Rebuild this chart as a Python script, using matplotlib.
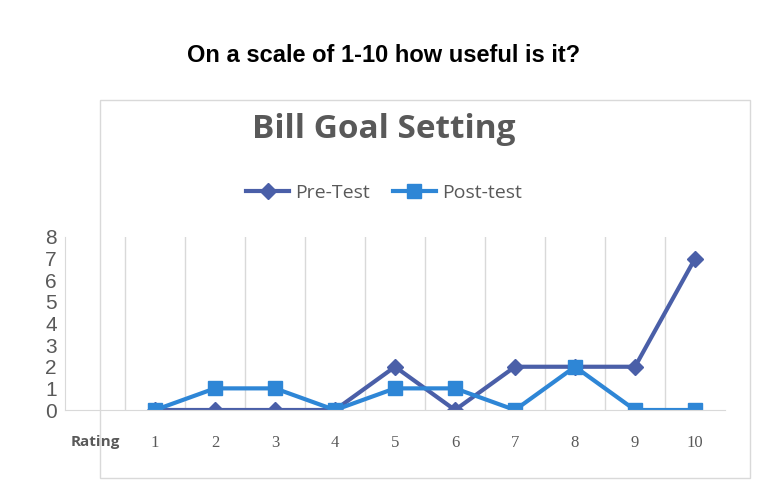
import matplotlib
matplotlib.use("Agg")
import matplotlib.pyplot as plt
from matplotlib.patches import Rectangle

categories = ["Rating", "1", "2", "3", "4", "5", "6", "7", "8", "9", "10"]
pre_test = [0, 0, 0, 0, 2, 0, 2, 2, 2, 7]
post_test = [0, 1, 1, 0, 1, 1, 0, 2, 0, 0]
yticks = list(range(0, 9))

fig = plt.figure(figsize=(7.68, 4.92), dpi=100)
fig.patch.set_facecolor("white")
fig.text(0.5, 1 - 55/492, "On a scale of 1-10 how useful is it?", ha="center", va="center",
         fontsize=17, fontweight="bold", family="Liberation Sans")
fig.patches.append(Rectangle((100/768, 1 - 478/492), 650/768, 378/492, transform=fig.transFigure,
                             fill=False, edgecolor="#d9d9d9", lw=1))
fig.text(0.5, 1 - 130/492, "Bill Goal Setting", ha="center", va="center",
         fontsize=24, fontweight="bold", color="#595959", family="Open Sans")

ax = fig.add_axes([65/768, 1 - 410/492, 660/768, 173/492])
x = list(range(1, 11))
ax.plot(x, pre_test, color="#4a5fa8", lw=3, marker="D", ms=8, label="Pre-Test")
ax.plot(x, post_test, color="#2e86d6", lw=3, marker="s", ms=10, label="Post-test")
ax.set_xlim(-0.5, 10.5)
ax.set_ylim(0, 8)
ax.set_yticks(yticks)
ax.set_yticklabels([str(v) for v in yticks], fontsize=15, color="#595959", family="Liberation Sans")
ax.set_xticks(range(len(categories)))
ax.set_xticklabels(categories, fontsize=12, color="#595959", family="Liberation Serif")
ax.get_xticklabels()[0].set_family("Open Sans")
ax.get_xticklabels()[0].set_fontweight("bold")
ax.get_xticklabels()[0].set_fontsize(11)
for g in [i + 0.5 for i in range(10)]:
    ax.axvline(g, color="#d9d9d9", lw=1, zorder=0)
for s in ["top", "right"]:
    ax.spines[s].set_visible(False)
ax.spines["left"].set_color("#d9d9d9")
ax.spines["bottom"].set_color("#d9d9d9")
ax.tick_params(axis="x", length=0, pad=18)
ax.tick_params(axis="y", length=0, pad=6)
ax.legend(loc="center", bbox_to_anchor=(0.5, 1 - 193/492), bbox_transform=fig.transFigure,
          ncol=2, frameon=False, prop={"family": "Open Sans", "size": 14}, labelcolor="#595959",
          handlelength=2.2, handletextpad=0.3, columnspacing=1.2)
fig.savefig("out.png", dpi=100)
